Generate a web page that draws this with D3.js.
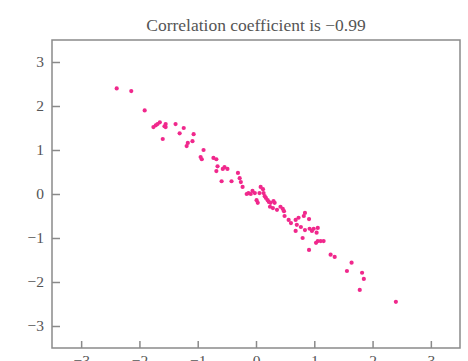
<!DOCTYPE html>
<html>
<head>
<meta charset="utf-8">
<script src="https://cdn.jsdelivr.net/npm/d3@7"></script>
<style>
  html, body { margin: 0; padding: 0; background: #ffffff; }
  svg { display: block; }
</style>
</head>
<body>
<svg id="chart" width="468" height="361"></svg>
<script>
// Scatter of two strongly negatively correlated variables
const titleText = "Correlation coefficient is \u22120.99";

const xValues = [
  -2.39, -2.14, -1.91, -1.76, -1.72, -1.69, -1.65, -1.57, -1.55, -1.55,
  -1.38, -1.24, -1.31, -1.60, -1.07, -1.09, -1.17, -1.19, -0.90, -0.95,
  -0.93, -0.73, -0.68, -0.66, -0.68, -0.57, -0.54, -0.49, -0.59, -0.42,
  -0.31, -0.28, -0.26, -0.23, -0.16, -0.13, -0.09, -0.06, -0.02, 0.01,
  0.03, 0.08, 0.12, 0.06, 0.13, 0.15, 0.17, 0.20, 0.22, 0.25,
  0.24, 0.29, 0.30, 0.32, 0.36, 0.42, 0.46, 0.48, 0.49, 0.56,
  0.60, 0.68, 0.70, 0.73, 0.82, 0.84, 0.91, 0.77, 0.68, 0.84,
  0.92, 0.96, 0.99, 1.06, 1.04, 0.80, 1.03, 1.06, 1.11, 1.16,
  0.91, 1.28, 1.35, 1.64, 1.56, 1.82, 1.85, 1.78, 2.40
];
const yValues = [
  2.40, 2.34, 1.90, 1.52, 1.56, 1.59, 1.63, 1.54, 1.59, 1.52,
  1.59, 1.50, 1.38, 1.25, 1.36, 1.20, 1.16, 1.09, 1.00, 0.84,
  0.79, 0.82, 0.79, 0.63, 0.52, 0.57, 0.61, 0.57, 0.29, 0.29,
  0.48, 0.36, 0.27, 0.16, 0.00, 0.02, 0.00, 0.07, 0.02, -0.14,
  -0.20, 0.16, 0.11, 0.02, 0.02, -0.05, -0.09, -0.14, -0.18, -0.20,
  -0.29, -0.32, -0.16, -0.20, -0.36, -0.29, -0.34, -0.39, -0.50, -0.59,
  -0.66, -0.59, -0.70, -0.54, -0.50, -0.43, -0.57, -0.75, -0.84, -0.82,
  -0.79, -0.84, -0.79, -0.77, -0.88, -1.00, -1.11, -1.07, -1.07, -1.07,
  -1.27, -1.38, -1.43, -1.56, -1.75, -1.79, -1.93, -2.18, -2.45
];
const xTicks = [-3, -2, -1, 0, 1, 2, 3];
const yTicks = [-3, -2, -1, 0, 1, 2, 3];

const points = xValues.map((x, i) => ({ x, y: yValues[i] }));

const svg = d3.select("#chart");
const plot = { left: 52, right: 460, top: 40, bottom: 348 };

const x = d3.scaleLinear().domain([-3.5, 3.5]).range([plot.left, plot.right]);
const y = d3.scaleLinear().domain([-3.5, 3.5]).range([plot.bottom, plot.top]);

const axisColor = "#8a8a8a";
const textColor = "#555555";
const fontFamily = "'Liberation Serif', 'DejaVu Serif', serif";
const fmt = d => (d < 0 ? "\u2212" + Math.abs(d) : String(d));

// Title
svg.append("text")
  .attr("x", (plot.left + plot.right) / 2)
  .attr("y", 31)
  .attr("text-anchor", "middle")
  .attr("font-family", fontFamily)
  .attr("font-size", 17.5)
  .attr("fill", textColor)
  .text(titleText);

// Y axis with inward ticks
const yAxis = svg.append("g")
  .attr("transform", `translate(${plot.left},0)`)
  .call(d3.axisLeft(y).tickValues(yTicks).tickFormat(fmt)
    .tickSizeInner(-8).tickSizeOuter(0).tickPadding(8));

// X axis with inward ticks
const xAxis = svg.append("g")
  .attr("transform", `translate(0,${plot.bottom})`)
  .call(d3.axisBottom(x).tickValues(xTicks).tickFormat(fmt)
    .tickSizeInner(-7).tickSizeOuter(0).tickPadding(7));

[yAxis, xAxis].forEach(g => {
  g.select(".domain").remove();
  g.selectAll(".tick line").attr("stroke", axisColor).attr("stroke-width", 1.5);
  g.selectAll(".tick text")
    .attr("font-family", fontFamily)
    .attr("font-size", 15.5)
    .attr("fill", textColor);
});

// Plot frame
svg.append("rect")
  .attr("x", plot.left)
  .attr("y", plot.top)
  .attr("width", plot.right - plot.left)
  .attr("height", plot.bottom - plot.top)
  .attr("fill", "none")
  .attr("stroke", axisColor)
  .attr("stroke-width", 1.5);

// Points
svg.append("g")
  .selectAll("circle")
  .data(points)
  .join("circle")
  .attr("cx", d => x(d.x))
  .attr("cy", d => y(d.y))
  .attr("r", 2.1)
  .attr("fill", "#f0288c");
</script>
</body>
</html>
